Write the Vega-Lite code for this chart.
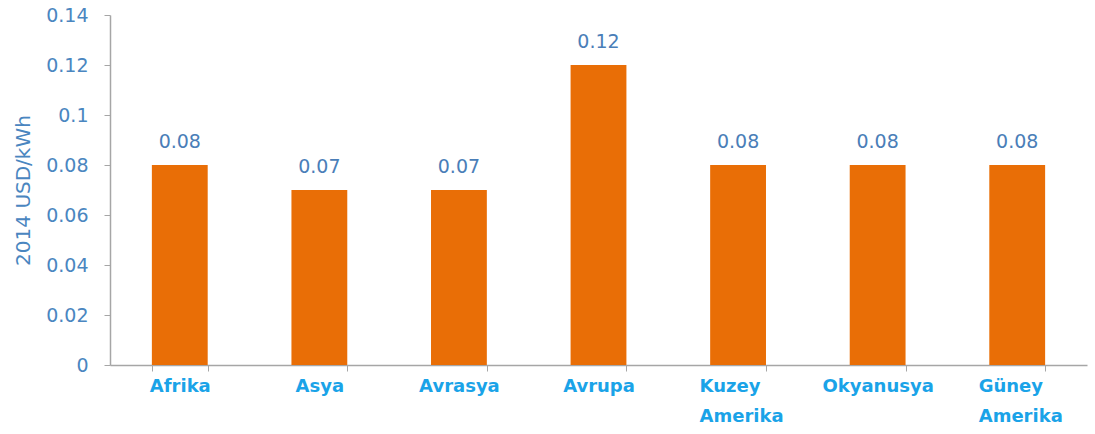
{
  "$schema": "https://vega.github.io/schema/vega-lite/v6.json",
  "autosize": {"type": "none"},
  "width": 977,
  "height": 350,
  "padding": {"left": 110, "top": 15, "right": 8, "bottom": 69},
  "background": "white",
  "config": {"view": {"stroke": null}},
  "data": {"values": [
    {"region": "Afrika", "value": 0.08},
    {"region": "Asya", "value": 0.07},
    {"region": "Avrasya", "value": 0.07},
    {"region": "Avrupa", "value": 0.12},
    {"region": "Kuzey Amerika", "value": 0.08},
    {"region": "Okyanusya", "value": 0.08},
    {"region": "Güney Amerika", "value": 0.08}
  ]},
  "encoding": {
    "x": {
      "field": "region", "type": "nominal", "sort": null,
      "scale": {"paddingInner": 0.6, "paddingOuter": 0.3},
      "axis": {
        "title": null, "labelAngle": 0, "tickBand": "extent",
        "labelExpr": "split(datum.label, ' ')",
        "labelAlign": {"condition": {"test": "datum.label == 'Kuzey Amerika' || datum.label == 'Güney Amerika'", "value": "left"}, "value": "center"},
        "labelOffset": {"condition": {"test": "datum.label == 'Kuzey Amerika' || datum.label == 'Güney Amerika'", "value": -39}, "value": 0},
        "labelFont": "DejaVu Sans", "labelFontWeight": "bold", "labelFontSize": 18,
        "labelColor": "#1AA3E8", "labelPadding": 6, "labelLineHeight": 30,
        "domainColor": "#A6A6A6", "tickColor": "#A6A6A6", "tickSize": 6, "domainWidth": 1.5
      }
    },
    "y": {
      "field": "value", "type": "quantitative",
      "scale": {"domain": [0, 0.14]},
      "axis": {
        "title": "2014 USD/kWh", "values": [0, 0.02, 0.04, 0.06, 0.08, 0.1, 0.12, 0.14],
        "format": ".2~f",
        "grid": false, "labelFont": "DejaVu Sans", "labelFontSize": 19,
        "labelColor": "#4A86C0", "labelPadding": 16,
        "titleFont": "DejaVu Sans", "titleFontSize": 20, "titleFontWeight": "normal",
        "titleColor": "#4A86C0", "titlePadding": 12,
        "domainColor": "#A6A6A6", "tickColor": "#A6A6A6", "tickSize": 6, "domainWidth": 1.5
      }
    }
  },
  "layer": [
    {"mark": {"type": "bar", "color": "#E96E06"}},
    {
      "mark": {"type": "text", "dy": -23, "font": "DejaVu Sans", "fontSize": 19, "color": "#4A7EB8"},
      "encoding": {"text": {"field": "value", "type": "quantitative", "format": ".2f"}}
    }
  ]
}
